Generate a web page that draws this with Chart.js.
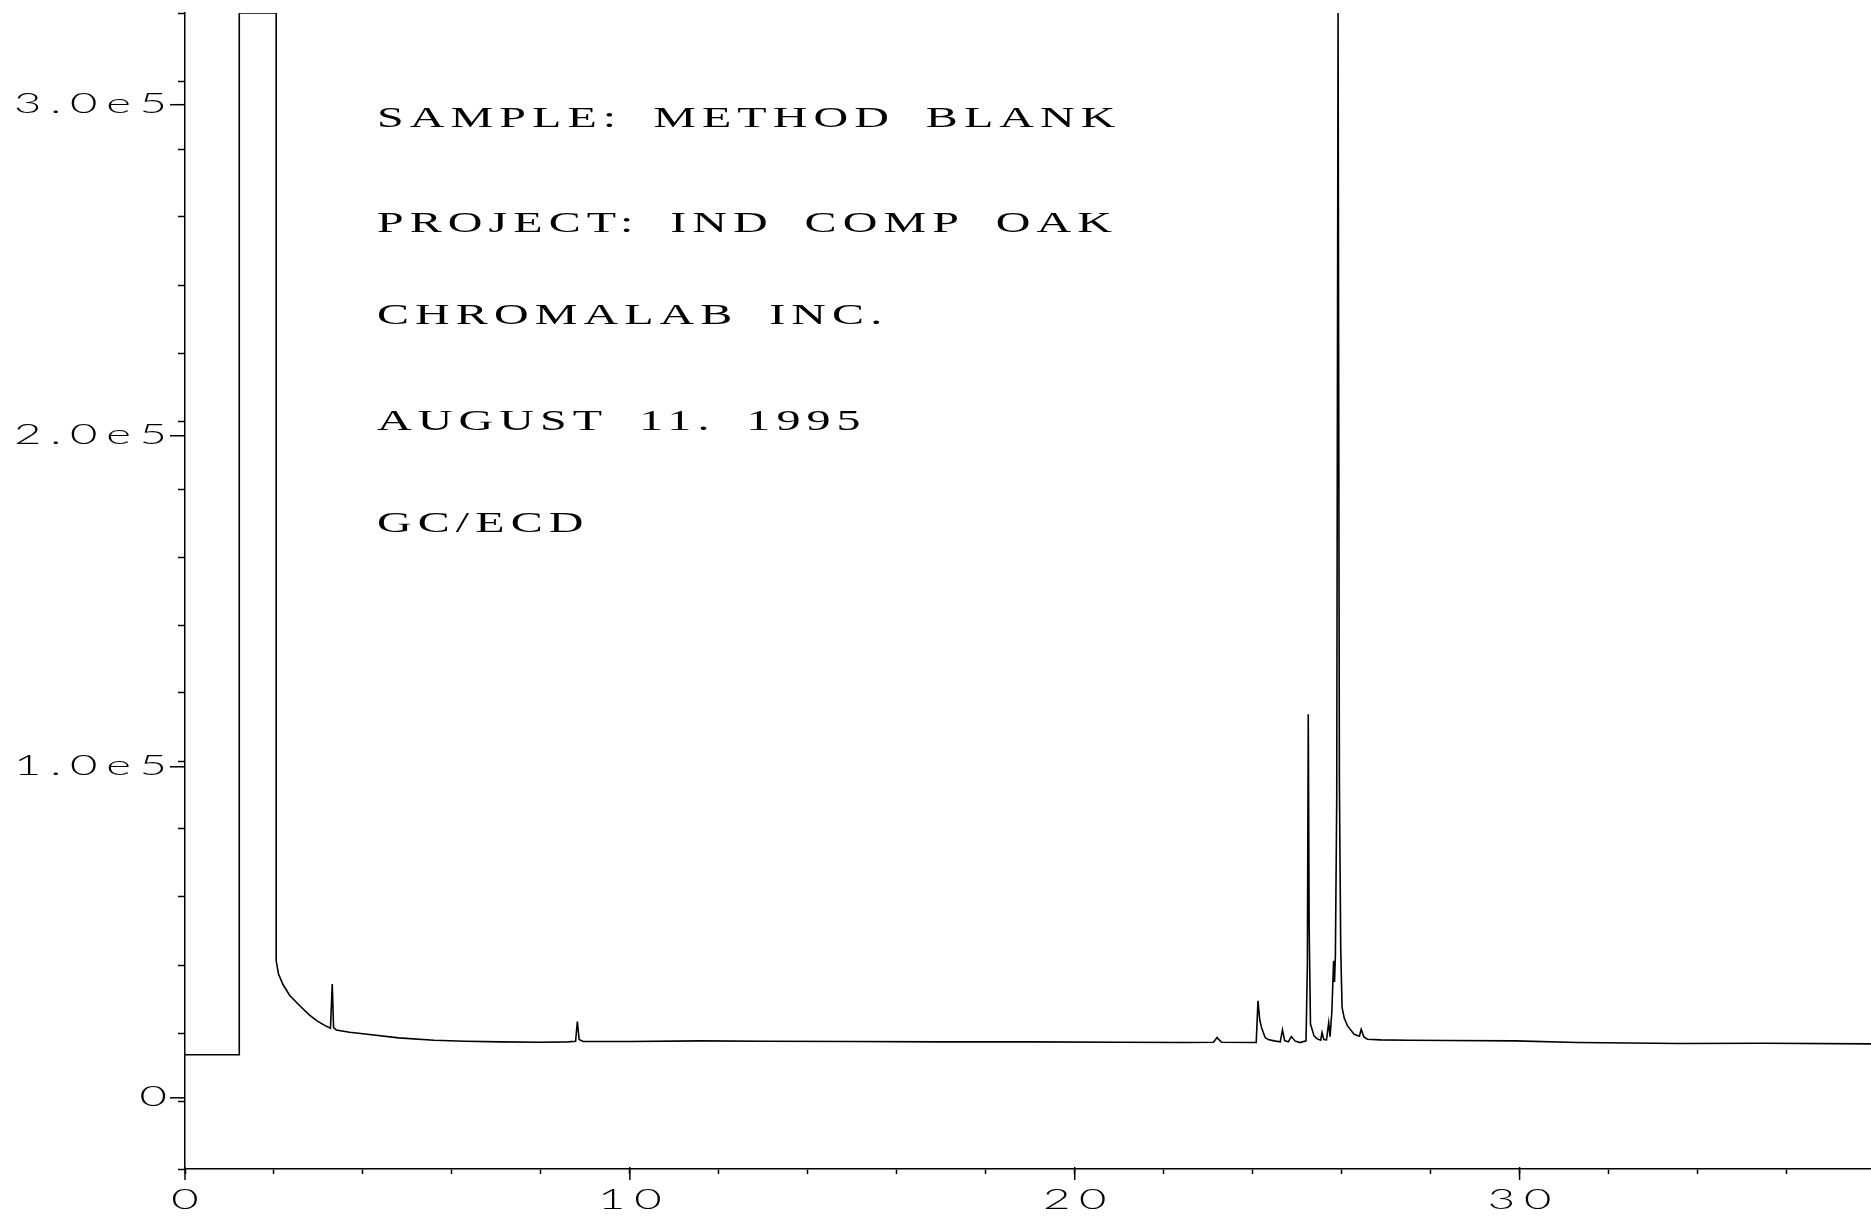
<!DOCTYPE html>
<html>
<head>
<meta charset="utf-8">
<title>Method blank GC/ECD</title>
<script src="https://cdn.jsdelivr.net/npm/chart.js@4.4.1/dist/chart.umd.min.js"></script>
<style>
  html, body { margin: 0; padding: 0; background: #fff; }
  canvas { display: block; }
</style>
</head>
<body>
<canvas id="gcChart" width="1871" height="1216"></canvas>
<script>
// retention time (min) and detector response
const retentionTime = [
    0, 1.22, 1.22, 2.05, 2.05, 2.1, 2.2, 2.35, 2.58, 2.8,
    2.96, 3.15, 3.27, 3.31, 3.34, 3.4, 3.7, 4.1, 4.8, 5.6,
    6.3, 7.1, 8.0, 8.6, 8.78, 8.82, 8.86, 8.95, 10, 11.6,
    13, 15, 17, 19, 21, 22.5, 23.12, 23.2, 23.3, 24.08,
    24.12, 24.16, 24.2, 24.28, 24.35, 24.48, 24.62, 24.67, 24.72, 24.8,
    24.87, 24.95, 25.06, 25.2, 25.23, 25.25, 25.27, 25.3, 25.38, 25.45,
    25.53, 25.56, 25.6, 25.66, 25.71, 25.74, 25.78, 25.82, 25.84, 25.86,
    25.89, 25.92, 25.95, 25.98, 26.01, 26.06, 26.13, 26.28, 26.4, 26.44,
    26.5, 26.58, 26.88, 27.5, 28.4, 29.9, 31.3, 33.6, 35.5, 37.9
];
const detectorSignal = [
    13000, 13000, 327700, 327700, 41400, 37500, 34300, 31000, 27800, 25000,
    23300, 21800, 21000, 34400, 21200, 20500, 19800, 19200, 18100, 17400,
    17100, 16900, 16800, 16900, 17100, 23000, 17600, 17000, 17000, 17200,
    17100, 17000, 16900, 16900, 16800, 16700, 16800, 18200, 16800, 16700,
    29300, 23500, 21200, 18200, 17600, 17200, 16900, 20500, 17300, 16900,
    18500, 17200, 16700, 17200, 40000, 115900, 52000, 22300, 18700, 17800,
    17400, 19700, 17600, 17500, 22700, 18500, 26000, 41400, 35000, 43000,
    90000, 327700, 95000, 45000, 27300, 24000, 21800, 19200, 18600, 20700,
    18400, 17700, 17500, 17400, 17300, 17200, 16700, 16400, 16500, 16300
];

const xMajorTicks = [0, 10, 20, 30];
const xTickLabels = ['0', '10', '20', '30'];
const yMajorTicks = [0, 100000, 200000, 300000];
const yTickLabels = ['0', '1.0e5', '2.0e5', '3.0e5'];

const noteLines = [
    'SAMPLE: METHOD BLANK',
    'PROJECT: IND COMP OAK',
    'CHROMALAB INC.',
    'AUGUST 11. 1995',
    'GC/ECD'
];

const plotterFont = '300 27px Lato, "DejaVu Sans", sans-serif';
const noteFont = '30px "Liberation Serif", "DejaVu Serif", serif';

// plotter lettering is wide and loosely spaced, so stretch it sideways
function drawWide(ctx, text, x, y, align, font, stretch, spacing, wordGap) {
    ctx.save();
    ctx.font = font;
    ctx.letterSpacing = spacing + 'px';
    ctx.wordSpacing = (wordGap || 0) + 'px';
    ctx.textAlign = 'left';
    ctx.textBaseline = 'alphabetic';
    const w = (ctx.measureText(text).width - spacing) * stretch;
    let left = x;
    if (align === 'right') left = x - w;
    if (align === 'center') left = x - w / 2;
    ctx.translate(left, y);
    ctx.scale(stretch, 1);
    ctx.fillStyle = '#000';
    ctx.fillText(text, 0, 0);
    ctx.restore();
}

const plotterAxes = {
    id: 'plotterAxes',
    afterDraw(chart) {
        const { ctx, chartArea, scales: { x, y } } = chart;
        ctx.save();
        ctx.strokeStyle = '#000';
        ctx.lineWidth = 1.5;

        // long ticks + labels on the y axis
        yMajorTicks.forEach((v, i) => {
            const py = y.getPixelForValue(v);
            ctx.beginPath();
            ctx.moveTo(chartArea.left - 15, py);
            ctx.lineTo(chartArea.left, py);
            ctx.stroke();
            drawWide(ctx, yTickLabels[i], chartArea.left - 18, py + 8, 'right', plotterFont, 1.75, 5);
        });

        // long ticks + labels on the x axis
        xMajorTicks.forEach((v, i) => {
            const px = x.getPixelForValue(v);
            ctx.beginPath();
            ctx.moveTo(px, chartArea.bottom - 2);
            ctx.lineTo(px, chartArea.bottom + 11);
            ctx.stroke();
            drawWide(ctx, xTickLabels[i], px, chartArea.bottom + 40, 'center', plotterFont, 1.75, 5);
        });

        // sample header printed inside the plot
        const baselines = [127, 232, 324, 430, 532];
        noteLines.forEach((line, i) => {
            drawWide(ctx, line, 377, baselines[i], 'left', noteFont, 1.6, 3.8, 8);
        });
        ctx.restore();
    }
};

const ctxGc = document.getElementById('gcChart').getContext('2d');
new Chart(ctxGc, {
    type: 'scatter',
    data: {
        datasets: [{
            data: retentionTime.map((t, i) => ({ x: t, y: detectorSignal[i] })),
            showLine: true,
            borderColor: '#000',
            borderWidth: 1.6,
            pointRadius: 0,
            tension: 0
        }]
    },
    options: {
        responsive: false,
        devicePixelRatio: 1,
        animation: false,
        events: [],
        layout: { padding: { top: 13, right: 0, bottom: 0, left: 0 } },
        plugins: { legend: { display: false }, tooltip: { enabled: false } },
        scales: {
            x: {
                type: 'linear',
                min: 0,
                max: 37.9,
                border: { display: true, color: '#000', width: 1.5 },
                grid: { drawOnChartArea: false, drawTicks: true, tickLength: 5, tickColor: '#000', tickWidth: 1.5 },
                ticks: { display: false, stepSize: 2, includeBounds: false },
                afterFit(scale) { scale.height = 47; }
            },
            y: {
                type: 'linear',
                min: -21500,
                max: 327700,
                border: { display: true, color: '#000', width: 1.5 },
                grid: { drawOnChartArea: false, drawTicks: true, tickLength: 7, tickColor: '#000', tickWidth: 1.5 },
                ticks: { display: false, stepSize: 20000, includeBounds: false },
                afterFit(scale) { scale.width = 185; }
            }
        }
    },
    plugins: [plotterAxes]
});
</script>
</body>
</html>
